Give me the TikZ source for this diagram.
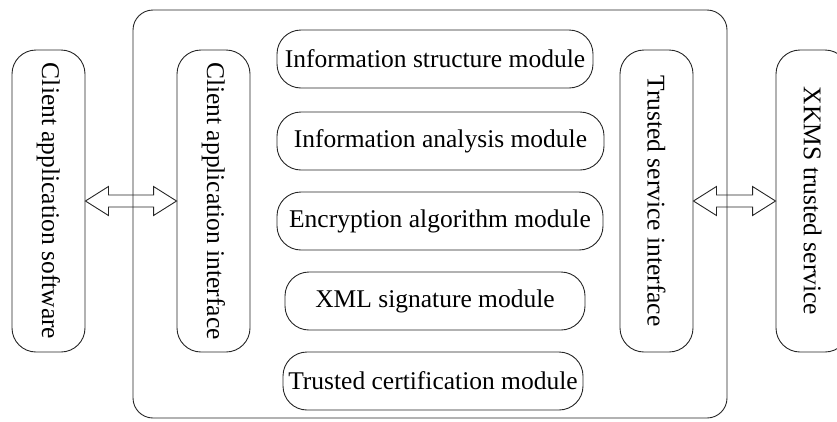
\documentclass[tikz,border=0pt]{standalone}
\usepackage{fontspec}
\setmainfont{Liberation Serif}
\usetikzlibrary{calc}

\begin{document}
\begin{tikzpicture}[
		x=1pt, y=-1pt,
		frame box/.style={draw=black!85, line width=0.9pt, rounded corners=20pt, minimum width=594pt, minimum height=408pt, inner sep=0pt},
		side box/.style={draw=black!85, line width=0.9pt, rounded corners=24pt, rotate=-90, minimum width=302pt, minimum height=73pt, inner sep=0pt, font=\fontsize{25.5}{30}\selectfont},
		module box/.style={draw=black!85, line width=0.9pt, rounded corners=24pt, minimum height=58pt, inner sep=0pt, font=\fontsize{25.5}{30}\selectfont},
		link arrow/.style={draw=black!85, line width=0.9pt, line join=miter}
		]
		
		% Picture area
		\clip (0,0) rectangle (837,421);
		
		% =========================================================
		% Platform frame with its two interfaces
		% =========================================================
		\node[frame box] (platform) at (430,214) {};
		
		\node[side box] (cai) at (213.5,201) {Client application interface};
		\node[side box] (tsi) at (656.5,201) {Trusted service interface};
		
		% =========================================================
		% Modules
		% =========================================================
		\node[module box, minimum width=316pt] (m1) at (435,59) {Information structure module};
		\node[module box, minimum width=327pt] (m2) at (440.5,141) {Information analysis module};
		\node[module box, minimum width=326pt] (m3) at (440,221) {Encryption algorithm module};
		\node[module box, minimum width=300pt] (m4) at (435,301) {XML signature module};
		\node[module box, minimum width=300pt] (m5) at (433,381) {Trusted certification module};
		
		% =========================================================
		% Outside parties
		% =========================================================
		\node[side box] (csw) at (48.5,201) {Client application software};
		\node[side box] (xkms) at (812.5,201) {XKMS trusted service};
		
		% Hollow double arrows (rotated boxes: north is the right side)
		\draw[link arrow] (csw.north) -- ++(23,-14.5) -- ++(0,8.5) -- ($(cai.south)+(-23,-6)$) -- ++(0,-8.5)
			-- (cai.south) -- ++(-23,14.5) -- ++(0,-8.5) -- ($(csw.north)+(23,6)$) -- ++(0,8.5) -- cycle;
		\draw[link arrow] (tsi.north) -- ++(23,-14.5) -- ++(0,8.5) -- ($(xkms.south)+(-23,-6)$) -- ++(0,-8.5)
			-- (xkms.south) -- ++(-23,14.5) -- ++(0,-8.5) -- ($(tsi.north)+(23,6)$) -- ++(0,8.5) -- cycle;
		
	\end{tikzpicture}
\end{document}
